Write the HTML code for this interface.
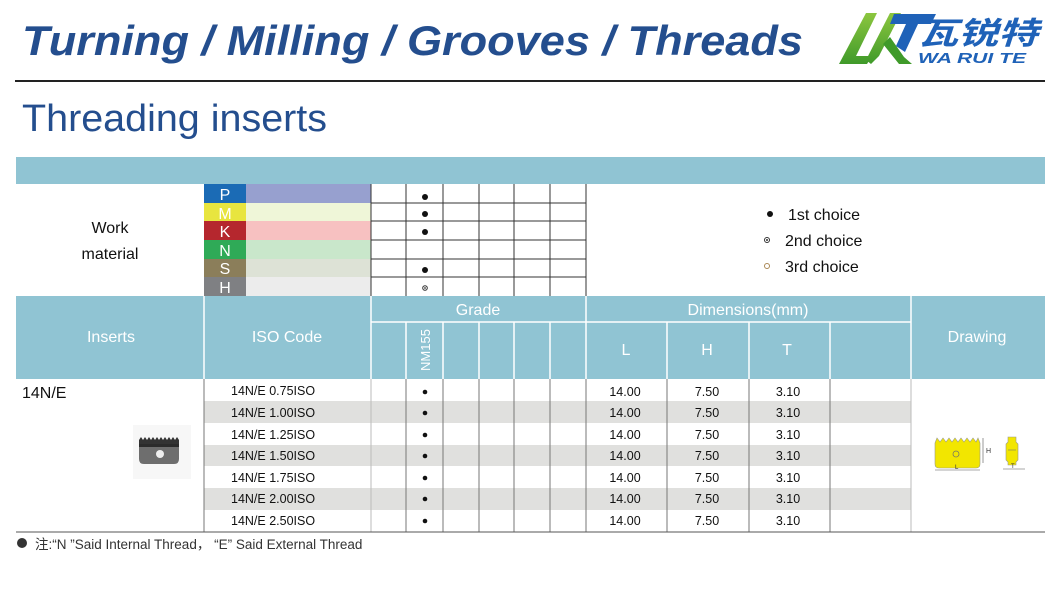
<!DOCTYPE html>
<html><head><meta charset="utf-8"><style>
html,body{margin:0;padding:0;background:#fff;}
svg{display:block;}
text{font-family:"Liberation Sans","Noto Sans CJK SC",sans-serif;}
</style></head><body>
<svg width="1060" height="600" viewBox="0 0 1060 600" xmlns="http://www.w3.org/2000/svg">
<defs>
<linearGradient id="g1" x1="0" y1="0" x2="0" y2="1"><stop offset="0" stop-color="#8cc63f"/><stop offset="1" stop-color="#3f9a2a"/></linearGradient>
</defs>
<rect width="1060" height="600" fill="#fff"/>
<!-- header -->
<text x="22" y="55" font-size="42" font-weight="bold" font-style="italic" fill="#244e8e" textLength="781" lengthAdjust="spacingAndGlyphs">Turning / Milling / Grooves / Threads</text>
<line x1="15" y1="81" x2="1045" y2="81" stroke="#222" stroke-width="2"/>
<text x="22" y="131" font-size="38" fill="#244e8e" textLength="305" lengthAdjust="spacingAndGlyphs">Threading inserts</text>
<!-- logo -->
<polygon points="866,13 877,13 856,56 872,56 867,64 839,64" fill="url(#g1)"/>
<polygon points="890,13 901,13 879,56 871,64 866,60" fill="url(#g1)"/>
<polygon points="883,44 890,37 904,57 912,64 899,64" fill="#3f9a2a"/>
<polygon points="894,14 936,14 931,24 918,24 905,52 896,46 906,24 890,24" fill="#1f62b8"/>
<text x="918" y="44" font-size="31" font-weight="bold" font-style="italic" fill="#1f62b8" font-family="'Noto Sans CJK SC',sans-serif" textLength="120" lengthAdjust="spacingAndGlyphs">瓦锐特</text>
<text x="918" y="63" font-size="15" font-weight="bold" font-style="italic" fill="#1f62b8" textLength="108" lengthAdjust="spacingAndGlyphs">WA RUI TE</text>
<!-- blue band -->
<rect x="16" y="157" width="1029" height="27" fill="#90c4d3"/>
<!-- material rows -->
<g font-size="16" fill="#fff">
<rect x="204" y="184" width="42" height="19" fill="#1b6bb5"/><rect x="246" y="184" width="125" height="19" fill="#97a0cf"/>
<rect x="204" y="203" width="42" height="18" fill="#e8e53f"/><rect x="246" y="203" width="125" height="18" fill="#eff6d8"/>
<rect x="204" y="221" width="42" height="19" fill="#b5272e"/><rect x="246" y="221" width="125" height="19" fill="#f7c1c1"/>
<rect x="204" y="240" width="42" height="19" fill="#2faa57"/><rect x="246" y="240" width="125" height="19" fill="#c9e7cb"/>
<rect x="204" y="259" width="42" height="18" fill="#8b7e5a"/><rect x="246" y="259" width="125" height="18" fill="#dde2d6"/>
<rect x="204" y="277" width="42" height="19" fill="#7f8083"/><rect x="246" y="277" width="125" height="19" fill="#ececec"/>
<text x="225" y="200" text-anchor="middle">P</text>
<text x="225" y="219" text-anchor="middle">M</text>
<text x="225" y="237" text-anchor="middle">K</text>
<text x="225" y="256" text-anchor="middle">N</text>
<text x="225" y="274" text-anchor="middle">S</text>
<text x="225" y="293" text-anchor="middle">H</text>
</g>
<g stroke="#333" stroke-width="1">
<line x1="371" y1="203" x2="586" y2="203"/><line x1="371" y1="221" x2="586" y2="221"/>
<line x1="371" y1="240" x2="586" y2="240"/><line x1="371" y1="259" x2="586" y2="259"/>
<line x1="371" y1="277" x2="586" y2="277"/>
<line x1="371" y1="184" x2="371" y2="296"/><line x1="406" y1="184" x2="406" y2="296"/>
<line x1="443" y1="184" x2="443" y2="296"/><line x1="479" y1="184" x2="479" y2="296"/>
<line x1="514" y1="184" x2="514" y2="296"/><line x1="550" y1="184" x2="550" y2="296"/>
<line x1="586" y1="184" x2="586" y2="296"/>
</g>
<g fill="#111">
<circle cx="425" cy="197" r="3"/><circle cx="425" cy="214" r="3"/><circle cx="425" cy="232" r="3"/><circle cx="425" cy="270" r="3"/>
</g>
<circle cx="425" cy="288" r="2.3" fill="none" stroke="#333" stroke-width="1"/><circle cx="425" cy="288" r="0.9" fill="#333"/>
<text x="110" y="233" font-size="16" fill="#111" text-anchor="middle">Work</text>
<text x="110" y="259" font-size="16" fill="#111" text-anchor="middle">material</text>
<circle cx="770" cy="214" r="3" fill="#111"/>
<text x="788" y="220" font-size="16" fill="#111">1st choice</text>
<circle cx="767" cy="240" r="2.5" fill="none" stroke="#333"/><circle cx="767" cy="240" r="1" fill="#333"/>
<text x="785" y="246" font-size="16" fill="#111">2nd choice</text>
<circle cx="767" cy="266" r="2.5" fill="none" stroke="#a85"/>
<text x="785" y="272" font-size="16" fill="#111">3rd choice</text>
<!-- table header -->
<rect x="16" y="296" width="1029" height="83" fill="#90c4d3"/>
<g stroke="#fff" stroke-width="1.5">
<line x1="204" y1="296" x2="204" y2="379"/><line x1="371" y1="296" x2="371" y2="379"/>
<line x1="586" y1="296" x2="586" y2="379"/><line x1="911" y1="296" x2="911" y2="379"/>
<line x1="371" y1="322" x2="911" y2="322"/>
<line x1="406" y1="322" x2="406" y2="379"/><line x1="443" y1="322" x2="443" y2="379"/>
<line x1="479" y1="322" x2="479" y2="379"/><line x1="514" y1="322" x2="514" y2="379"/>
<line x1="550" y1="322" x2="550" y2="379"/>
<line x1="667" y1="322" x2="667" y2="379"/><line x1="749" y1="322" x2="749" y2="379"/>
<line x1="830" y1="322" x2="830" y2="379"/>
</g>
<g fill="#fff" font-size="16" text-anchor="middle">
<text x="111" y="342">Inserts</text>
<text x="287" y="342">ISO Code</text>
<text x="478" y="315">Grade</text>
<text x="748" y="315">Dimensions(mm)</text>
<text x="977" y="342">Drawing</text>
<text x="626" y="355">L</text><text x="707" y="355">H</text><text x="787" y="355">T</text>
<text transform="translate(430,350) rotate(-90)" font-size="13">NM155</text>
</g>
<!-- data rows -->
<g fill="#e0e0de">
<rect x="204" y="401" width="707" height="22"/>
<rect x="204" y="445" width="707" height="21"/>
<rect x="204" y="488" width="707" height="22"/>
</g>
<g stroke="#777" stroke-width="1">
<line x1="204" y1="379" x2="204" y2="532"/><line x1="371" y1="379" x2="371" y2="532" stroke="#bbb"/>
<line x1="406" y1="379" x2="406" y2="532"/><line x1="443" y1="379" x2="443" y2="532"/>
<line x1="479" y1="379" x2="479" y2="532"/><line x1="514" y1="379" x2="514" y2="532"/>
<line x1="550" y1="379" x2="550" y2="532"/><line x1="586" y1="379" x2="586" y2="532"/>
<line x1="667" y1="379" x2="667" y2="532"/><line x1="749" y1="379" x2="749" y2="532"/>
<line x1="830" y1="379" x2="830" y2="532"/><line x1="911" y1="379" x2="911" y2="532" stroke="#bbb"/>
</g>
<line x1="16" y1="532" x2="1045" y2="532" stroke="#555" stroke-width="1"/>
<text x="22" y="398" font-size="16" fill="#111">14N/E</text>
<g font-size="12.5" fill="#111">
<text x="231" y="395">14N/E 0.75ISO</text>
<text x="231" y="417">14N/E 1.00ISO</text>
<text x="231" y="439">14N/E 1.25ISO</text>
<text x="231" y="460">14N/E 1.50ISO</text>
<text x="231" y="482">14N/E 1.75ISO</text>
<text x="231" y="503">14N/E 2.00ISO</text>
<text x="231" y="525">14N/E 2.50ISO</text>
</g>
<g font-size="12.5" fill="#111" text-anchor="middle">
<text x="625" y="396">14.00</text><text x="707" y="396">7.50</text><text x="788" y="396">3.10</text>
<text x="625" y="417">14.00</text><text x="707" y="417">7.50</text><text x="788" y="417">3.10</text>
<text x="625" y="439">14.00</text><text x="707" y="439">7.50</text><text x="788" y="439">3.10</text>
<text x="625" y="460">14.00</text><text x="707" y="460">7.50</text><text x="788" y="460">3.10</text>
<text x="625" y="482">14.00</text><text x="707" y="482">7.50</text><text x="788" y="482">3.10</text>
<text x="625" y="503">14.00</text><text x="707" y="503">7.50</text><text x="788" y="503">3.10</text>
<text x="625" y="525">14.00</text><text x="707" y="525">7.50</text><text x="788" y="525">3.10</text>
</g>
<g fill="#111">
<circle cx="425" cy="392" r="2.3"/><circle cx="425" cy="413" r="2.3"/><circle cx="425" cy="435" r="2.3"/>
<circle cx="425" cy="456" r="2.3"/><circle cx="425" cy="478" r="2.3"/><circle cx="425" cy="499" r="2.3"/>
<circle cx="425" cy="521" r="2.3"/>
</g>
<!-- insert photo -->
<rect x="133" y="425" width="58" height="54" fill="#f7f7f7"/>
<polygon points="139,440 141,437 143,440 145,437 147,440 149,437 151,440 153,437 155,440 157,437 159,440 161,437 163,440 165,437 167,440 169,437 171,440 173,437 175,440 177,437 179,440 179,444 139,444" fill="#333"/>
<path d="M139,444 H179 V459 Q179,464 174,464 H144 Q139,464 139,459 Z" fill="#6e6e6e"/>
<rect x="139" y="444" width="40" height="3" fill="#2b2b2b"/>
<circle cx="160" cy="454" r="4" fill="#eee"/>
<!-- drawing -->
<path d="M935,443 L937,438 L940,442 L943,438 L946,442 L949,438 L952,442 L955,438 L958,442 L961,438 L964,442 L967,438 L970,442 L973,438 L976,442 L978,438 L980,443 V464 Q980,468 976,468 H939 Q935,468 935,464 Z" fill="#f2e600" stroke="#998" stroke-width="0.6"/>
<circle cx="956" cy="454" r="3" fill="none" stroke="#776" stroke-width="0.8"/>
<line x1="935" y1="470" x2="980" y2="470" stroke="#555" stroke-width="0.6"/>
<text x="955" y="469" font-size="6" fill="#333">L</text>
<line x1="983" y1="438" x2="983" y2="463" stroke="#555" stroke-width="0.6"/>
<text x="986" y="453" font-size="7" fill="#333">H</text>
<path d="M1008,437 H1016 V442 L1018,444 V460 L1016,462 V465 H1008 V462 L1006,460 V444 L1008,442 Z" fill="#f2e600" stroke="#998" stroke-width="0.6"/>
<line x1="1008" y1="450" x2="1016" y2="450" stroke="#776" stroke-width="0.6"/>
<line x1="1003" y1="469" x2="1025" y2="469" stroke="#555" stroke-width="0.6"/>
<text x="1011" y="468" font-size="6" fill="#333">T</text>
<!-- footnote -->
<circle cx="22" cy="543" r="5" fill="#333"/>
<text x="35" y="549" font-size="13.5" fill="#333">注:“N ”Said Internal Thread， “E” Said External Thread</text>
</svg>
</body></html>
